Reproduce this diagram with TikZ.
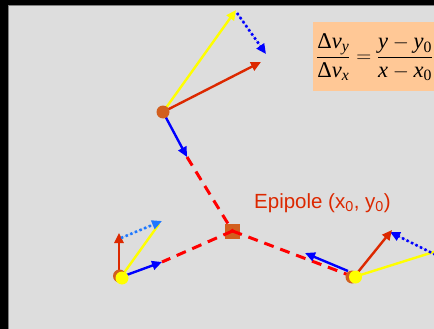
\documentclass[tikz,border=0pt]{standalone}
\usepackage{amsmath}
\usepackage{fontspec}
\setmainfont{Liberation Serif}
\newfontfamily\arialf{Liberation Sans}
\usetikzlibrary{arrows.meta}
\definecolor{bgC}{RGB}{221,221,221}
\definecolor{orC}{RGB}{210,95,30}
\definecolor{redA}{RGB}{220,40,0}
\definecolor{redD}{RGB}{255,0,0}
\definecolor{bluC}{RGB}{0,0,255}
\definecolor{lbluC}{RGB}{30,120,255}
\definecolor{yelC}{RGB}{255,255,0}
\definecolor{boxC}{RGB}{255,200,150}
\newcommand\Dl{\mbox{Δ}}
\tikzset{
  tip/.style={-{Triangle[length=10pt,width=9pt]}},
  solidarrow/.style={tip, line width=2.4pt},
  dotarrow/.style={tip, line width=2.6pt, dash pattern=on 2.4pt off 2.6pt},
  dashline/.style={draw=redD, line width=3pt, dash pattern=on 10pt off 7pt},
  dotnode/.style={circle, inner sep=0pt, minimum size=#1},
  epi/.style={rectangle, fill=orC, inner sep=0pt, minimum size=15pt}
}
\begin{document}
\begin{tikzpicture}[x=1pt,y=-1pt]
\useasboundingbox (0,0) rectangle (434,329);
\clip (0,0) rectangle (434,329);
\fill[black] (0,0) rectangle (434,329);
\fill[bgC] (8,5) rectangle (440,335);
\draw[gray, line width=0.8pt] (8.4,335) -- (8.4,5.4) -- (440,5.4);

% formula box
\fill[boxC] (313,22) rectangle (440,91);
\node[anchor=west, inner sep=0pt] (formula) at (316,57)
  {\fontsize{22.5}{27}\selectfont $\dfrac{\Dl\mathit{v}_{\mathit{y}}}{\Dl\mathit{v}_{\mathit{x}}} = \dfrac{\mathit{y}-\mathit{y}_{\mathrm{0}}}{\mathit{x}-\mathit{x}_{\mathrm{0}}}$};

% epipole
\node[epi] (E) at (232.5,231) {};
\node[anchor=base west, inner sep=0pt, text=redA] (elabel) at (254,208)
  {\arialf\fontsize{20.5}{24}\selectfont Epipole (x\textsubscript{0}, y\textsubscript{0})};

% top group
\coordinate (P1) at (163,112);
\coordinate (Y1) at (236,10);
\coordinate (Y1s) at (237,13);
\coordinate (R1) at (261,62);
\coordinate (B1) at (266,54);
\coordinate (M1) at (187,157);
\draw[dashline] (M1) -- (E.center);
\draw[solidarrow, draw=yelC, fill=yelC] (P1) -- (Y1);
\draw[dotarrow, draw=bluC, fill=bluC] (Y1s) -- (B1);
\draw[solidarrow, draw=redA, fill=redA] (P1) -- (R1);
\draw[solidarrow, draw=bluC, fill=bluC] (P1) -- (M1);
\node[dotnode=13pt, fill=orC] (p1) at (P1) {};

% bottom-left group
\coordinate (P2) at (121,277);
\coordinate (R2s) at (119,270);
\coordinate (R2) at (119,233);
\coordinate (Y2) at (159,224);
\coordinate (L2s) at (121,238);
\coordinate (L2) at (162,221);
\coordinate (M2) at (162,262);
\draw[dashline] (E.center) -- (M2);
\draw[solidarrow, draw=redA, fill=redA] (R2s) -- (R2);
\draw[line width=2.4pt, draw=yelC] (P2) -- (Y2);
\draw[dotarrow, draw=lbluC, fill=lbluC] (L2s) -- (L2);
\draw[solidarrow, draw=bluC, fill=bluC] (P2) -- (M2);
\node[dotnode=13pt, fill=orC] (p2o) at (119.5,276) {};
\node[dotnode=13pt, fill=yelC] (p2) at (122,278) {};

% bottom-right group
\coordinate (P3) at (354,277);
\coordinate (R3) at (392,230);
\coordinate (B3s) at (440,257);
\coordinate (B3) at (390,232);
\coordinate (Y3) at (440,250);
\coordinate (M3s) at (348,271);
\coordinate (M3) at (305,253);
\draw[dashline] (E.center) -- (P3);
\draw[solidarrow, draw=bluC, fill=bluC] (M3s) -- (M3);
\draw[line width=2.4pt, draw=yelC] (P3) -- (Y3);
\draw[dotarrow, draw=bluC, fill=bluC] (B3s) -- (B3);
\draw[solidarrow, draw=redA, fill=redA] (P3) -- (R3);
\node[dotnode=13pt, fill=orC] (p3o) at (352,277) {};
\node[dotnode=13pt, fill=yelC] (p3) at (355.5,277) {};
\end{tikzpicture}
\end{document}
